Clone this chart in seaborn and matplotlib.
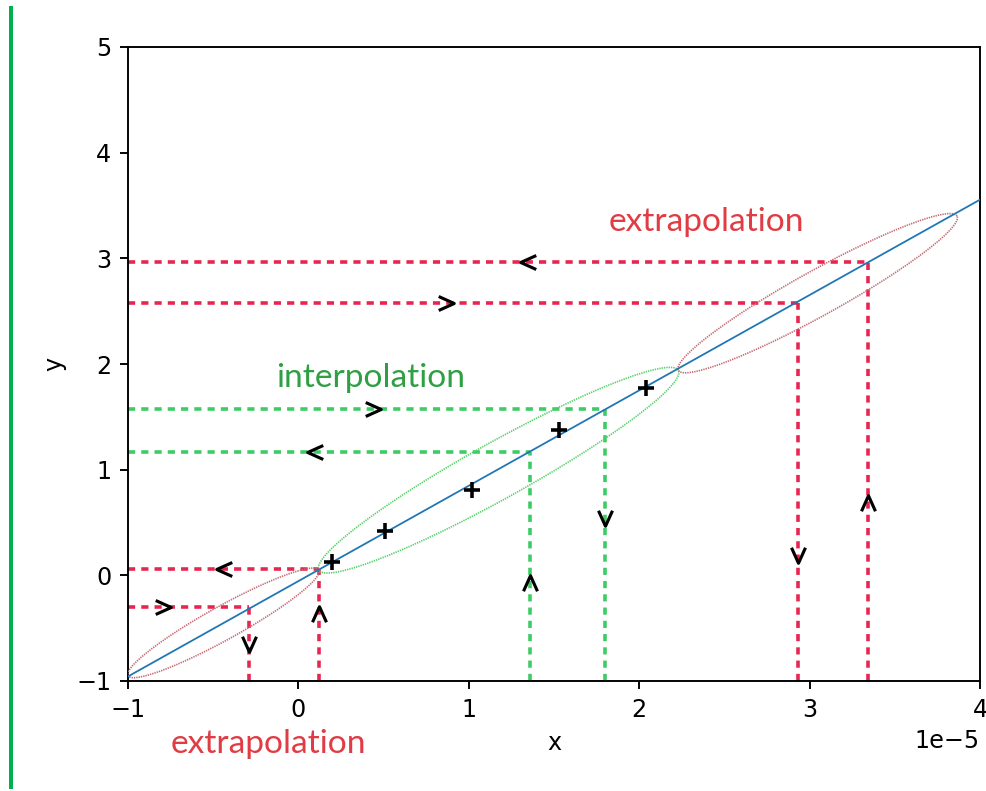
import numpy as np
import pandas as pd
import matplotlib
matplotlib.use("Agg")
import matplotlib.pyplot as plt
from matplotlib.path import Path
from matplotlib.patches import Rectangle
import seaborn as sns

# Measured samples (x in units of 1e-5)
sample_x = [0.20, 0.51, 1.02, 1.53, 2.04]
sample_y = [0.13, 0.42, 0.81, 1.38, 1.77]

# Dashed guides: point on the fitted line reached from an axis
red_guide_x = [3.345, 2.934, 0.121, -0.288]
red_guide_y = [2.962, 2.574, 0.057, -0.300]
green_guide_x = [1.80, 1.36]
green_guide_y = [1.574, 1.165]

# Direction markers along the guides
red_arrow_x = [1.347, 0.866, 3.345, 2.934, -0.437, 0.121, -0.795, -0.288]
red_arrow_y = [2.962, 2.574, 0.68, 0.192, 0.057, -0.366, -0.300, -0.650]
red_arrow_dir = ["<", ">", "^", "v", "<", "^", ">", "v"]
green_arrow_x = [0.438, 1.80, 0.097, 1.36]
green_arrow_y = [1.574, 0.543, 1.165, -0.073]
green_arrow_dir = [">", "v", "<", "^"]

# Regions along the fit: end points and half thickness (points)
region_x0 = [-1.0, 0.12, 2.23]
region_y0 = [-0.95, 0.05, 1.94]
region_x1 = [0.12, 2.23, 3.865]
region_y1 = [0.05, 1.94, 3.40]
region_halfwidth = [7.0, 11.8, 9.4]
region_kind = ["extra", "inter", "extra"]

XMIN, XMAX = -1.0, 4.0
YMIN, YMAX = -1.0, 5.0
SCALE = 1e-5

RED = "#e8254f"
GREEN = "#3ccb64"
RED_ELL = "#c46a74"
GREEN_ELL = "#55d068"
RED_TXT = "#e03c44"
GREEN_TXT = "#2ea043"

DPI = 172
fig = plt.figure(figsize=(986 / DPI, 791 / DPI), dpi=DPI)
ax = fig.add_axes([128 / 986, 1 - 681 / 791, 852 / 986, 634 / 791])
ax.set_xlim(XMIN * SCALE, XMAX * SCALE)
ax.set_ylim(YMIN, YMAX)

df = pd.DataFrame({"x": np.array(sample_x) * SCALE, "y": sample_y})
sns.regplot(data=df, x="x", y="y", ax=ax, ci=None, truncate=False,
            marker="+",
            scatter_kws=dict(color="k", s=45, linewidths=1.5, alpha=1,
                             zorder=6),
            line_kws=dict(color="#1f77b4", lw=0.75, zorder=4))
ax.set_xlim(XMIN * SCALE, XMAX * SCALE)
ax.set_ylim(YMIN, YMAX)
ax.set_xticks(np.arange(-1, 5) * SCALE)
ax.set_yticks(np.arange(-1, 6))

# Elliptical regions built in display space so they stay round along the fit
fig.canvas.draw()
to_disp = ax.transData
to_data = ax.transData.inverted()
t = np.linspace(0, 2 * np.pi, 400)
for x0, y0, x1, y1, hw, kind in zip(region_x0, region_y0, region_x1,
                                   region_y1, region_halfwidth, region_kind):
    p0 = to_disp.transform((x0 * SCALE, y0))
    p1 = to_disp.transform((x1 * SCALE, y1))
    c = (p0 + p1) / 2
    u = (p1 - p0) / 2
    n = np.array([-u[1], u[0]]) / np.hypot(*u) * hw * DPI / 72
    pts = c + np.outer(np.cos(t), u) + np.outer(np.sin(t), n)
    dpts = to_data.transform(pts)
    ax.plot(dpts[:, 0], dpts[:, 1], lw=0.7, dashes=(0.8, 0.6),
            color=RED_ELL if kind == "extra" else GREEN_ELL, zorder=3)

dash = (2.0, 1.7)
for gx, gy, col in ([*zip(red_guide_x, red_guide_y, [RED] * 4)]
                    + [*zip(green_guide_x, green_guide_y, [GREEN] * 2)]):
    ax.plot([XMIN * SCALE, gx * SCALE], [gy, gy], color=col, lw=1.5,
            dashes=dash, zorder=2)
    ax.plot([gx * SCALE, gx * SCALE], [YMIN, gy], color=col, lw=1.5,
            dashes=dash, zorder=2)


def chevron(direction):
    verts = np.array([(-1.0, 0.9), (1.0, 0.0), (-1.0, -0.9)])
    ang = {">": 0, "^": 90, "<": 180, "v": 270}[direction]
    a = np.deg2rad(ang)
    rot = np.array([[np.cos(a), -np.sin(a)], [np.sin(a), np.cos(a)]])
    return Path(verts @ rot.T, [Path.MOVETO, Path.LINETO, Path.LINETO])


for ax_x, ax_y, d in ([*zip(red_arrow_x, red_arrow_y, red_arrow_dir)]
                      + [*zip(green_arrow_x, green_arrow_y, green_arrow_dir)]):
    ax.plot([ax_x * SCALE], [ax_y], marker=chevron(d), ms=6.5, mew=1.3,
            mec="k", mfc="none", ls="none", zorder=7)

label_font = ["Lato", "DejaVu Sans"]
ax.text(2.392 * SCALE, 3.259, "extrapolation", color=RED_TXT, fontsize=14,
        family=label_font, ha="center", va="baseline")
ax.text(0.426 * SCALE, 1.782, "interpolation", color=GREEN_TXT, fontsize=14,
        family=label_font, ha="center", va="baseline")
ax.text(-0.1755 * SCALE, -1.681, "extrapolation", color=RED_TXT, fontsize=14,
        family=label_font, ha="center", va="baseline", clip_on=False)

# Margin bar on the left edge
fig.add_artist(Rectangle((9 / 986, 2 / 791), 4 / 986, 783 / 791,
                         transform=fig.transFigure, color="#00b050", lw=0))

fig.savefig("out.png", dpi=DPI)
